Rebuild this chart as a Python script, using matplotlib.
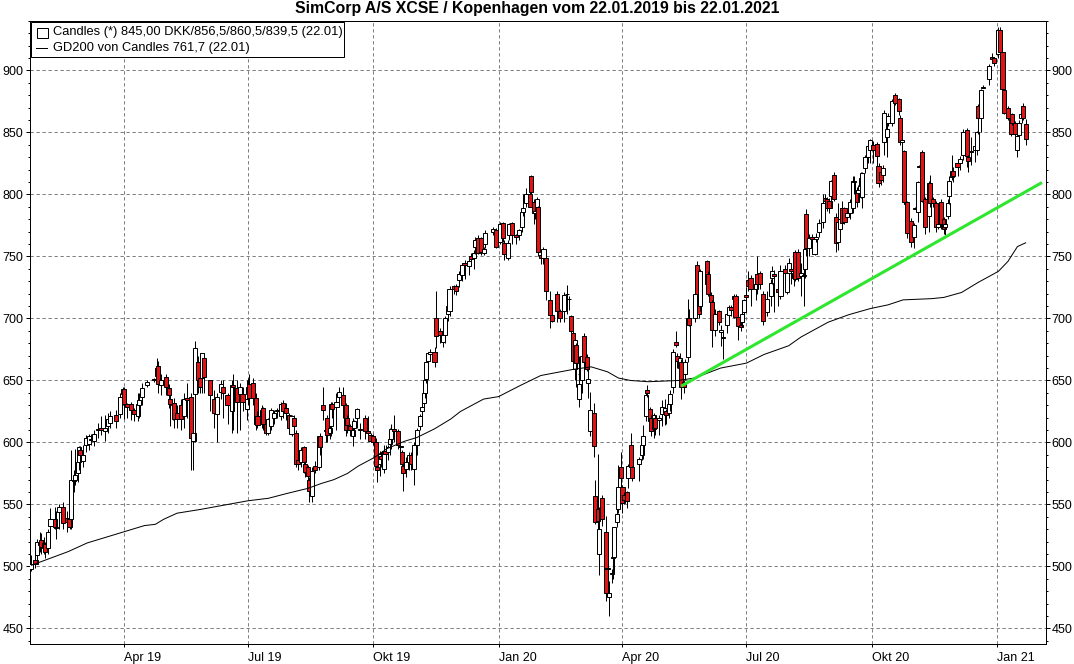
"""
SimCorp candle chart with GD200 and trend line.
"""

import matplotlib

matplotlib.use("Agg")
import matplotlib.dates as mdates
import matplotlib.pyplot as plt
import numpy as np
from matplotlib.patches import Rectangle
from matplotlib.ticker import MultipleLocator

plt.rcParams["font.family"] = ["Liberation Sans", "DejaVu Sans"]

START = np.datetime64("2019-01-22")

# Candles (days since 22.01.2019)
candle_days = [
    1, 4, 5, 7, 8, 10, 11, 13, 15, 18, 19, 21, 24, 27, 29, 30, 32, 33, 35, 36,
    37, 39, 41, 43, 45, 47, 50, 52, 55, 57, 59, 63, 66, 68, 69, 71, 74, 76, 79, 80,
    82, 86, 91, 93, 94, 96, 100, 102, 103, 105, 106, 108, 111, 113, 115, 118, 120, 121, 123, 125,
    126, 128, 132, 135, 137, 140, 142, 145, 148, 149, 152, 154, 156, 159, 160, 161, 164, 166, 167, 170,
    171, 173, 175, 177, 179, 181, 184, 186, 188, 190, 192, 194, 195, 197, 199, 201, 202, 204, 205, 207,
    209, 212, 213, 215, 217, 218, 220, 221, 222, 225, 227, 230, 232, 233, 235, 237, 238, 240, 242, 246,
    248, 250, 252, 254, 255, 257, 258, 260, 261, 263, 264, 265, 267, 270, 272, 273, 274, 276, 278, 280,
    282, 284, 286, 288, 289, 290, 291, 292, 294, 297, 298, 301, 303, 305, 307, 308, 311, 313, 315, 317,
    319, 322, 324, 326, 327, 329, 331, 333, 334, 340, 342, 345, 347, 348, 351, 352, 354, 357, 359, 361,
    362, 364, 367, 368, 370, 371, 372, 373, 375, 377, 379, 382, 383, 387, 389, 392, 394, 396, 397, 399,
    400, 401, 403, 404, 405, 407, 409, 410, 411, 414, 415, 417, 418, 420, 423, 424, 425, 427, 428, 429,
    431, 432, 434, 435, 436, 438, 439, 441, 442, 447, 449, 450, 452, 453, 455, 456, 458, 459, 462, 464,
    466, 467, 469, 470, 472, 474, 475, 477, 478, 480, 481, 483, 484, 488, 490, 491, 492, 497, 498, 500,
    501, 503, 506, 507, 509, 512, 513, 515, 517, 518, 520, 522, 523, 524, 526, 527, 529, 533, 534, 536,
    538, 541, 544, 545, 546, 549, 551, 554, 556, 557, 559, 561, 562, 564, 566, 568, 569, 570, 572, 574,
    576, 577, 579, 582, 584, 585, 587, 588, 590, 592, 593, 595, 596, 598, 600, 602, 604, 605, 607, 608,
    610, 611, 613, 615, 617, 619, 622, 623, 625, 626, 627, 629, 630, 633, 635, 638, 639, 640, 642, 643,
    644, 647, 649, 650, 652, 653, 655, 657, 660, 661, 663, 665, 667, 669, 671, 672, 674, 675, 677, 678,
    681, 683, 685, 688, 689, 691, 694, 695, 696, 698, 700, 704, 706, 708, 711, 712, 714, 715, 718, 720,
    721, 723, 725, 726, 728, 729, 731,
]
opens = [
    498, 505, 509, 520, 521, 519, 518, 515, 533, 538, 531, 544, 548, 539, 538, 538, 570, 570, 575, 584,
    594, 585, 598, 599, 603, 601, 611, 612, 609, 613, 616, 622, 623, 639, 643, 631, 631, 626, 621, 630,
    637, 646, 651, 654, 662, 646, 653, 644, 635, 631, 632, 624, 630, 621, 636, 637, 601, 639, 665, 652,
    652, 668, 650, 635, 623, 641, 645, 638, 625, 646, 644, 639, 639, 627, 639, 647, 648, 636, 621, 615,
    628, 615, 608, 613, 620, 626, 621, 632, 628, 622, 607, 620, 608, 586, 584, 596, 583, 580, 570, 557,
    581, 580, 605, 630, 610, 620, 608, 613, 631, 629, 637, 638, 630, 620, 613, 605, 612, 620, 610, 620,
    609, 606, 605, 600, 580, 583, 589, 579, 593, 592, 599, 603, 611, 609, 597, 592, 581, 579, 584, 590,
    579, 598, 613, 625, 632, 640, 651, 666, 671, 673, 700, 690, 681, 687, 704, 706, 726, 726, 731, 735,
    745, 742, 750, 749, 758, 765, 765, 753, 760, 770, 771, 762, 777, 761, 749, 767, 777, 767, 767, 774,
    786, 793, 800, 815, 794, 785, 790, 790, 751, 749, 749, 715, 703, 720, 706, 706, 720, 716, 702, 688,
    659, 679, 635, 655, 650, 686, 669, 648, 609, 624, 557, 546, 510, 555, 528, 499, 475, 495, 508, 508,
    536, 546, 580, 564, 558, 560, 571, 598, 580, 583, 590, 598, 621, 642, 627, 620, 611, 620, 618, 623,
    624, 625, 624, 631, 645, 681, 670, 660, 665, 649, 655, 669, 700, 700, 743, 720, 710, 746, 736, 719,
    713, 691, 706, 689, 685, 695, 703, 709, 716, 718, 701, 695, 697, 705, 719, 731, 733, 724, 736, 737,
    720, 705, 718, 733, 736, 724, 718, 740, 721, 737, 740, 737, 754, 754, 734, 735, 740, 784, 757, 766,
    752, 764, 770, 778, 797, 796, 795, 799, 816, 782, 762, 772, 789, 789, 782, 785, 789, 811, 804, 801,
    807, 798, 821, 830, 836, 840, 841, 823, 818, 816, 842, 846, 858, 858, 880, 877, 862, 842, 835, 792,
    794, 779, 766, 789, 786, 823, 834, 796, 783, 809, 796, 793, 774, 794, 780, 774, 783, 799, 814, 819,
    825, 825, 832, 852, 830, 835, 836, 836, 871, 862, 887, 893, 911, 910, 913, 933, 915, 884, 870, 861,
    865, 858, 836, 848, 862, 871, 856.5,
]
highs = [
    509, 510, 522, 528, 527, 524, 520, 530, 547, 548, 545, 550, 552, 545, 540, 594, 578, 595, 590, 597,
    597, 598, 606, 607, 607, 610, 616, 621, 622, 624, 625, 626, 640, 645, 645, 632, 633, 628, 640, 640,
    648, 650, 652, 668, 666, 655, 655, 647, 638, 632, 636, 630, 635, 640, 648, 640, 612, 682, 670, 655,
    672, 672, 650, 642, 640, 650, 650, 640, 650, 655, 650, 648, 645, 650, 652, 655, 652, 640, 625, 630,
    629, 618, 620, 628, 626, 628, 633, 634, 632, 624, 622, 622, 610, 588, 596, 597, 585, 582, 572, 580,
    585, 605, 608, 645, 615, 622, 614, 633, 633, 640, 645, 645, 632, 622, 615, 620, 618, 628, 616, 622,
    621, 608, 607, 604, 582, 593, 592, 598, 598, 598, 612, 615, 622, 611, 600, 594, 584, 588, 592, 592,
    600, 612, 623, 637, 642, 652, 666, 673, 675, 677, 722, 692, 690, 702, 712, 726, 727, 728, 738, 745,
    747, 748, 753, 755, 766, 767, 766, 758, 771, 774, 773, 778, 778, 763, 763, 777, 778, 768, 772, 787,
    800, 805, 806, 816, 796, 790, 798, 791, 752, 758, 750, 722, 705, 722, 708, 721, 727, 718, 703, 690,
    684, 680, 670, 660, 680, 688, 671, 660, 641, 632, 570, 591, 548, 558, 541, 500, 488, 498, 513, 532,
    552, 582, 592, 566, 560, 561, 583, 608, 581, 588, 598, 614, 640, 646, 629, 622, 624, 622, 622, 634,
    635, 627, 635, 642, 675, 690, 672, 672, 667, 650, 667, 716, 708, 726, 746, 722, 740, 747, 738, 721,
    715, 708, 707, 695, 690, 706, 711, 711, 720, 720, 703, 697, 706, 716, 725, 738, 735, 730, 750, 738,
    722, 722, 732, 742, 739, 736, 743, 743, 738, 749, 742, 738, 755, 756, 745, 740, 760, 788, 768, 768,
    766, 769, 780, 800, 800, 798, 797, 812, 818, 785, 793, 782, 795, 790, 787, 796, 815, 815, 806, 808,
    818, 818, 832, 841, 845, 843, 842, 825, 820, 824, 868, 858, 866, 877, 882, 878, 864, 846, 836, 795,
    795, 781, 777, 790, 811, 824, 836, 798, 811, 816, 798, 795, 778, 796, 782, 780, 796, 815, 832, 822,
    827, 831, 853, 854, 832, 846, 840, 851, 873, 885, 888, 905, 914, 911, 935, 935, 916, 885, 871, 863,
    866, 859, 848, 860, 867, 874, 860.5,
]
lows = [
    496, 499, 502, 512, 510, 510, 507, 510, 525, 530, 522, 530, 530, 528, 530, 530, 560, 566, 568, 578,
    575, 580, 592, 594, 598, 597, 604, 606, 601, 608, 612, 612, 620, 630, 619, 620, 618, 617, 617, 620,
    630, 645, 649, 648, 640, 638, 638, 628, 613, 618, 612, 612, 610, 612, 620, 578, 578, 600, 640, 640,
    640, 640, 625, 612, 600, 635, 620, 615, 608, 610, 608, 610, 625, 618, 630, 627, 630, 610, 612, 612,
    610, 606, 606, 610, 615, 620, 618, 620, 618, 610, 605, 600, 580, 578, 580, 575, 572, 565, 552, 552,
    575, 578, 590, 618, 600, 600, 603, 605, 620, 610, 630, 620, 605, 608, 605, 597, 605, 612, 603, 603,
    606, 600, 598, 578, 568, 573, 580, 575, 585, 586, 590, 595, 600, 595, 590, 578, 561, 572, 578, 578,
    566, 590, 610, 620, 628, 636, 648, 662, 668, 661, 676, 680, 677, 680, 698, 702, 720, 719, 725, 730,
    732, 735, 742, 740, 752, 752, 751, 751, 757, 767, 757, 760, 762, 747, 747, 763, 760, 760, 763, 770,
    783, 790, 790, 800, 776, 780, 785, 750, 744, 744, 715, 692, 697, 697, 697, 697, 704, 707, 688, 663,
    650, 645, 629, 650, 640, 665, 658, 636, 605, 588, 534, 530, 493, 533, 472, 497, 460, 487, 490, 495,
    532, 543, 564, 543, 550, 547, 563, 578, 569, 569, 586, 587, 617, 637, 610, 605, 604, 606, 606, 613,
    614, 615, 620, 625, 640, 677, 660, 650, 635, 640, 650, 665, 694, 697, 720, 700, 706, 725, 718, 711,
    677, 686, 695, 678, 667, 688, 696, 702, 700, 700, 683, 690, 693, 700, 705, 722, 710, 715, 720, 724,
    695, 702, 710, 728, 705, 710, 716, 730, 720, 732, 728, 726, 730, 730, 718, 710, 733, 750, 750, 758,
    751, 762, 766, 773, 785, 787, 785, 790, 795, 754, 755, 768, 775, 776, 780, 780, 785, 800, 790, 795,
    797, 789, 817, 825, 825, 825, 822, 806, 808, 810, 832, 830, 855, 855, 872, 864, 840, 835, 793, 788,
    765, 758, 757, 788, 778, 822, 794, 768, 770, 790, 790, 770, 772, 772, 768, 767, 780, 792, 812, 810,
    815, 820, 828, 822, 818, 824, 826, 832, 849, 850, 886, 888, 908, 904, 910, 914, 884, 865, 860, 847,
    856, 847, 830, 846, 858, 860, 839.5,
]
closes = [
    502, 502, 520, 517, 516, 515, 512, 528, 538, 532, 532, 548, 535, 536, 532, 570, 569, 574, 584, 596,
    590, 590, 604, 605, 602, 607, 610, 610, 612, 619, 621, 617, 637, 643, 631, 629, 626, 623, 631, 634,
    644, 649, 650, 660, 647, 650, 645, 638, 631, 630, 619, 619, 619, 635, 634, 604, 608, 676, 650, 645,
    672, 653, 638, 624, 637, 647, 640, 630, 646, 645, 633, 645, 633, 635, 645, 636, 636, 615, 614, 626,
    615, 608, 619, 626, 624, 625, 631, 625, 624, 612, 621, 613, 583, 583, 594, 584, 576, 573, 561, 577,
    578, 605, 596, 626, 609, 606, 612, 631, 627, 633, 641, 630, 610, 614, 610, 610, 617, 627, 611, 609,
    608, 601, 600, 581, 578, 591, 587, 593, 591, 596, 603, 611, 609, 598, 596, 583, 575, 584, 590, 583,
    598, 610, 621, 629, 640, 650, 665, 672, 673, 665, 686, 687, 687, 700, 710, 724, 724, 722, 736, 743,
    743, 746, 748, 753, 763, 753, 754, 756, 769, 772, 758, 776, 765, 752, 761, 776, 767, 766, 771, 786,
    789, 800, 790, 802, 785, 787, 796, 754, 749, 756, 722, 703, 698, 706, 700, 719, 720, 716, 690, 666,
    683, 664, 647, 655, 670, 665, 659, 651, 626, 597, 536, 537, 530, 538, 479, 498, 479, 494, 507, 532,
    542, 564, 571, 551, 554, 553, 581, 580, 571, 587, 598, 605, 638, 640, 617, 609, 622, 612, 620, 629,
    628, 622, 631, 639, 673, 679, 666, 668, 645, 645, 665, 700, 695, 720, 720, 704, 738, 728, 720, 713,
    691, 704, 697, 691, 684, 704, 709, 707, 718, 701, 694, 693, 704, 715, 717, 726, 724, 728, 728, 728,
    698, 716, 729, 738, 734, 721, 738, 737, 737, 745, 738, 733, 732, 733, 737, 734, 756, 757, 765, 764,
    764, 766, 777, 793, 795, 789, 789, 811, 796, 761, 778, 780, 777, 778, 785, 794, 811, 810, 794, 804,
    813, 817, 830, 839, 844, 836, 831, 809, 812, 821, 866, 853, 863, 875, 874, 867, 842, 844, 794, 794,
    769, 762, 775, 788, 810, 822, 795, 774, 809, 793, 793, 774, 776, 776, 772, 776, 793, 811, 819, 815,
    822, 829, 850, 831, 827, 834, 839, 850, 862, 884, 886, 904, 909, 906, 933, 915, 885, 866, 862, 849,
    858, 849, 847, 858, 865, 862, 845,
]

# GD200 line
gd200_days = [
    1, 28, 42, 69, 84, 92, 98, 108, 125, 150, 160, 175, 189, 204, 214, 223, 233, 241, 253, 262,
    275, 284, 297, 309, 316, 333, 344, 360, 375, 399, 412, 424, 432, 441, 454, 476, 488, 507, 526, 539,
    557, 566, 586, 601, 617, 630, 641, 662, 671, 684, 696, 711, 718, 725, 731,
]
gd200_values = [
    501, 512, 519, 528, 533, 534, 538, 543, 546, 551, 553, 555, 559, 563, 567, 570, 575, 581, 588, 595,
    601, 604, 611, 619, 625, 635, 637, 646, 654, 659, 661, 657, 652, 650, 649, 650, 652, 660, 664, 671,
    678, 685, 697, 703, 708, 711, 715, 716, 717, 721, 729, 738, 746, 758, 761,
]

# Hand-drawn trend line
trend_days = [479, 742]
trend_values = [646, 809]

y_major = [450, 500, 550, 600, 650, 700, 750, 800, 850, 900]
tick_dates = ["2019-04-01", "2019-07-01", "2019-10-01", "2020-01-01",
              "2020-04-01", "2020-07-01", "2020-10-01", "2021-01-01"]
tick_labels = ["Apr 19", "Jul 19", "Okt 19", "Jan 20", "Apr 20", "Jul 20", "Okt 20", "Jan 21"]

title = "SimCorp A/S XCSE / Kopenhagen vom 22.01.2019 bis 22.01.2021"
legend_lines = ["Candles (*) 845,00 DKK/856,5/860,5/839,5 (22.01)",
                "GD200 von Candles 761,7 (22.01)"]

RED = "#e01414"
W, H = 1074, 664
PX = 0.72  # one pixel in points


def to_num(days):
    return mdates.date2num(START + np.array(days, dtype="timedelta64[D]"))


fig = plt.figure(figsize=(W / 100, H / 100), dpi=100, facecolor="white")
ax = fig.add_axes([29.5 / W, 1 - 643.5 / H, 1016 / W, 623 / H])

# Candles, later ones paint over earlier ones
xs = to_num(candle_days)
body_w = 3.0
for i in range(len(xs)):
    z = 3 + i * 0.001
    ax.vlines(xs[i], lows[i], highs[i], color="black", lw=PX, zorder=z)
    bottom = min(opens[i], closes[i])
    height = abs(closes[i] - opens[i])
    face = RED if closes[i] < opens[i] else "white"
    ax.bar(xs[i], height, bottom=bottom, width=body_w, facecolor=face,
           edgecolor="black", linewidth=PX, zorder=z)

ax.plot(to_num(gd200_days), gd200_values, color="black", lw=PX, zorder=4)
ax.plot(to_num(trend_days), trend_values, color="#2ee62e", lw=2.2, zorder=5)

ax.set_xlim(to_num([0])[0] - 0.4, to_num([0])[0] + 745.6)
ax.set_ylim(437.9, 940.3)

# Axes and ticks
tick_x = mdates.date2num(np.array(tick_dates, dtype="datetime64[D]"))
ax.set_xticks(tick_x)
ax.set_xticklabels(tick_labels, ha="left", fontsize=9)
ax.set_yticks(y_major)
ax.yaxis.set_minor_locator(MultipleLocator(10))
ax.tick_params(axis="y", which="major", left=True, right=True, labelleft=True,
               labelright=True, length=3, width=PX, pad=1.5, labelsize=9)
ax.tick_params(axis="y", which="minor", left=True, right=True, length=1.5, width=PX)
ax.tick_params(axis="x", which="major", length=2.5, width=PX, pad=3.5)
ax.grid(True, which="major", color="#7f7f7f", lw=PX, linestyle=(0, (3.3, 2.7)), zorder=1)
ax.set_axisbelow(True)
for spine in ax.spines.values():
    spine.set_linewidth(PX)

# Title and legend box, placed in picture pixels
over = fig.add_axes([0, 0, 1, 1], zorder=10)
over.set_xlim(0, W)
over.set_ylim(H, 0)
over.axis("off")
over.text(537, 8.5, title, ha="center", va="center", fontsize=11.4, fontweight="bold")
over.add_patch(Rectangle((31, 22), 313, 35, facecolor="white", edgecolor="black", lw=PX))
over.add_patch(Rectangle((36.5, 27.5), 11, 10, facecolor="white", edgecolor="black", lw=PX))
over.plot([36, 47], [48, 48], color="black", lw=PX)
over.text(53, 32, legend_lines[0], ha="left", va="center", fontsize=9.25)
over.text(53, 48, legend_lines[1], ha="left", va="center", fontsize=9.25)

fig.savefig("out.png", dpi=100, facecolor="white")
plt.close(fig)
